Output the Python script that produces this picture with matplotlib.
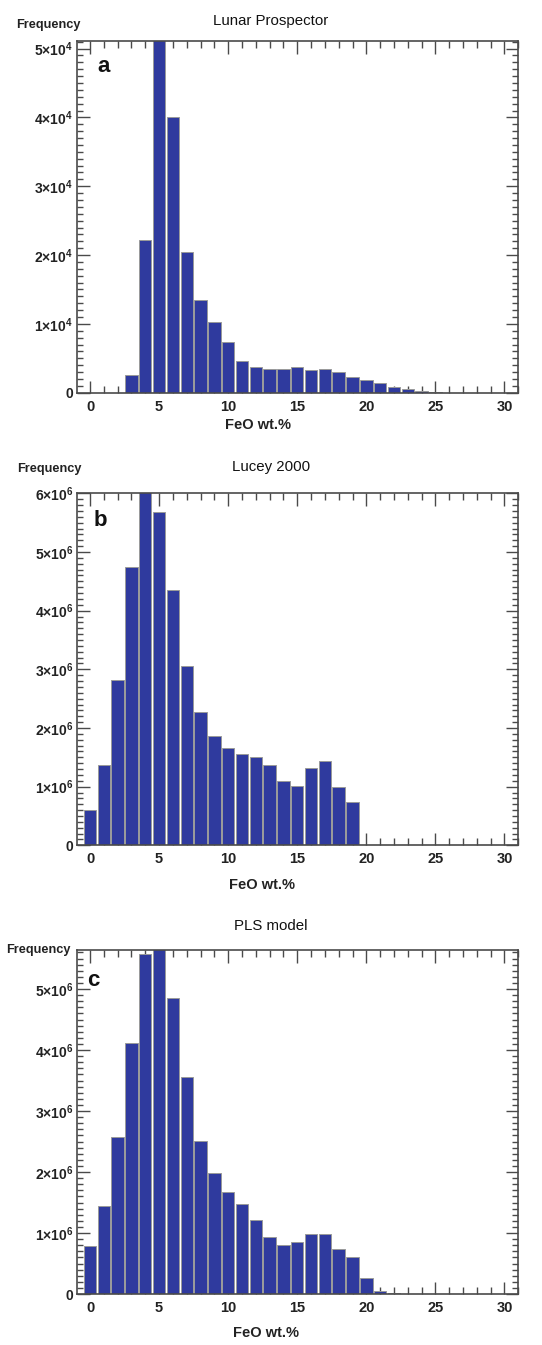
import numpy as np
import matplotlib
matplotlib.use("Agg")
import matplotlib.pyplot as plt
from matplotlib.ticker import MultipleLocator, FuncFormatter


# FeO bins (wt.%), one bar per integer value
feo_bins = np.arange(0, 31)

# a: Lunar Prospector (counts)
freq_lp = [0, 0, 0, 2500, 22200, 55000, 40000, 20400, 13500, 10200,
           7300, 4650, 3780, 3400, 3500, 3730, 3340, 3400, 3050, 2320,
           1800, 1360, 870, 480, 200, 60, 0, 0, 0, 0, 0]

# b: Lucey 2000 (millions)
freq_lucey = [0.61, 1.37, 2.81, 4.75, 6.10, 5.68, 4.36, 3.06, 2.28, 1.86,
              1.66, 1.55, 1.51, 1.375, 1.09, 1.01, 1.32, 1.44, 1.00, 0.74,
              0, 0, 0, 0, 0, 0, 0, 0, 0, 0, 0]

# c: PLS model (millions)
freq_pls = [0.79, 1.44, 2.57, 4.12, 5.57, 5.90, 4.86, 3.55, 2.51, 1.99,
            1.68, 1.47, 1.22, 0.94, 0.80, 0.85, 0.98, 0.98, 0.73, 0.61,
            0.27, 0.055, 0.012, 0.006, 0.004, 0.003, 0.002, 0.002, 0.001, 0.001, 0.001]

titles = ["Lunar Prospector", "Lucey 2000", "PLS model"]
letters = ["a", "b", "c"]
xlabel = "FeO wt.%"
ylabel = "Frequency"

plt.rcParams["font.family"] = ["Liberation Sans", "DejaVu Sans"]
plt.rcParams["mathtext.fontset"] = "custom"
plt.rcParams["mathtext.rm"] = "Liberation Sans:bold"
plt.rcParams["mathtext.it"] = "Liberation Sans:italic"
plt.rcParams["mathtext.bf"] = "Liberation Sans:bold"

BAR_COLOR = "#2f3a9e"
AXIS_COLOR = "#4a4a4a"
W, H = 542, 1345


def sci_label(exp):
    def fmt(v, pos):
        if v == 0:
            return "0"
        m = int(round(v / 10 ** exp))
        return f"{m}×10$^{{{exp}}}$"
    return fmt


def draw_panel(fig, box, values, scale, exp, ymax, title, letter,
               title_y, letter_xy, freq_xy, xlabel_xy):
    left, bottom, right, top = box
    ax = fig.add_axes([left / W, 1 - bottom / H, (right - left) / W, (bottom - top) / H])

    ax.bar(feo_bins, np.array(values) * scale, width=0.9, color=BAR_COLOR,
           edgecolor="#9a9a9a", linewidth=0.7, zorder=2)

    ax.set_xlim(-0.92, 31.0)
    ax.set_ylim(0, ymax)

    ax.xaxis.set_major_locator(MultipleLocator(5))
    ax.xaxis.set_minor_locator(MultipleLocator(1))
    ax.yaxis.set_major_locator(MultipleLocator(10 ** exp))
    ax.yaxis.set_minor_locator(MultipleLocator(10 ** exp / 10))
    ax.yaxis.set_major_formatter(FuncFormatter(sci_label(exp)))

    ax.tick_params(which="both", direction="in", top=True, right=True,
                   color=AXIS_COLOR, width=1.0)
    ax.tick_params(axis="x", which="major", length=9, labelsize=10.5, pad=5)
    ax.tick_params(axis="x", which="minor", length=5)
    ax.tick_params(axis="y", which="major", length=9, labelsize=10, pad=3)
    ax.tick_params(axis="y", which="minor", length=4.5)
    for lab in ax.get_xticklabels() + ax.get_yticklabels():
        lab.set_fontweight("bold")
        lab.set_color("#222222")

    for sp in ax.spines.values():
        sp.set_color(AXIS_COLOR)
        sp.set_linewidth(1.2)

    fig.text(0.5, 1 - title_y / H, title, ha="center", va="center", fontsize=10.8,
             color="#111111")
    fig.text(letter_xy[0] / W, 1 - letter_xy[1] / H, letter, ha="center", va="center",
             fontsize=16, fontweight="bold", color="#111111")
    fig.text(freq_xy[0] / W, 1 - freq_xy[1] / H, ylabel, ha="center", va="center",
             fontsize=9.2, fontweight="bold", color="#222222")
    fig.text(xlabel_xy[0] / W, 1 - xlabel_xy[1] / H, xlabel, ha="center", va="center",
             fontsize=10.5, fontweight="bold", color="#222222")
    return ax


fig = plt.figure(figsize=(W / 100, H / 100), dpi=100)

draw_panel(fig, (77.3, 392.7, 518.3, 41.0), freq_lp, 1, 4, 51100, titles[0], letters[0],
           21, (103.5, 66), (48, 25), (258, 425))
draw_panel(fig, (77.3, 845.3, 518.3, 493.3), freq_lucey, 1e6, 6, 6.0e6, titles[1], letters[1],
           467, (100, 521), (49, 469), (262, 885))
draw_panel(fig, (77.3, 1294.0, 518.3, 950.0), freq_pls, 1e6, 6, 5.64e6, titles[2], letters[2],
           925.5, (93.5, 980), (38.5, 950), (266, 1333))

fig.savefig("out.png", dpi=100)
